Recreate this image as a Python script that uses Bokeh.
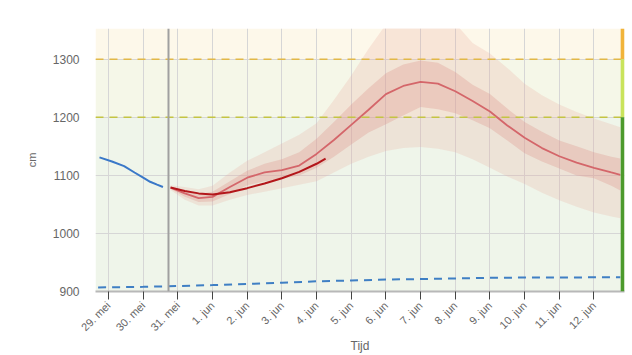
import math
from bokeh.plotting import figure
from bokeh.models import Range1d, FixedTicker, BoxAnnotation, Span
from bokeh.embed import file_html
from bokeh.resources import INLINE

# ---- data (x in days, 0 = 29 mei 00:00) ----
tick_days = list(range(15))
tick_labels = ["29. mei", "30. mei", "31. mei", "1. jun", "2. jun", "3. jun", "4. jun",
               "5. jun", "6. jun", "7. jun", "8. jun", "9. jun", "10. jun", "11. jun", "12. jun"]
y_ticks = [900, 1000, 1100, 1200, 1300]

now_day = 1.73
threshold_high = 1300
threshold_mid = 1200

obs_day = [-0.26, 0.1, 0.45, 0.75, 1.0, 1.2, 1.4, 1.57]
obs_val = [1131, 1124, 1116, 1105, 1096, 1089, 1084, 1080]

base_day = [-0.3, 1, 2, 3, 4, 5, 6, 7, 8, 9, 10, 11, 12, 13, 14, 14.76]
base_val = [907, 908, 909.5, 911, 913, 915, 917.5, 919, 920.5, 921.5, 922.5, 923.5, 924, 924, 924.5, 924.5]

det_day = [1.79, 2.2, 2.6, 3.0, 3.5, 4.0, 4.5, 5.0, 5.5, 6.0, 6.26]
det_val = [1079, 1073, 1069, 1067, 1071, 1078, 1086, 1095, 1106, 1120, 1129]

fc_day = [1.79, 2.2, 2.6, 3.0, 3.5, 4.0, 4.5, 5.0, 5.5, 6.0, 6.5, 7.0, 7.5, 8.0, 8.5, 9.0,
          9.5, 10.0, 10.5, 11.0, 11.5, 12.0, 12.5, 13.0, 13.5, 14.0, 14.5, 14.76]
fc_median = [1079, 1069, 1061, 1063, 1080, 1096, 1105, 1109, 1117, 1137, 1161, 1187, 1213, 1240,
             1254, 1261, 1258, 1245, 1228, 1210, 1186, 1165, 1147, 1133, 1122, 1113, 1105, 1101]
fc_inner_hi = [1081, 1074, 1068, 1072, 1090, 1108, 1120, 1128, 1140, 1163, 1192, 1222, 1250, 1276,
               1291, 1298, 1294, 1278, 1256, 1240, 1215, 1192, 1175, 1160, 1150, 1140, 1132, 1129]
fc_inner_lo = [1077, 1063, 1054, 1055, 1068, 1083, 1090, 1094, 1100, 1113, 1132, 1153, 1174, 1188,
               1203, 1218, 1214, 1207, 1195, 1181, 1160, 1138, 1124, 1112, 1100, 1095, 1082, 1074]
fc_outer_hi = [1083, 1080, 1076, 1082, 1105, 1125, 1140, 1155, 1170, 1190, 1230, 1272, 1318, 1360,
               1390, 1400, 1390, 1362, 1328, 1310, 1285, 1258, 1238, 1222, 1209, 1198, 1188, 1183]
fc_outer_lo = [1075, 1058, 1048, 1048, 1058, 1066, 1072, 1078, 1084, 1090, 1105, 1120, 1132, 1142,
               1147, 1149, 1146, 1140, 1128, 1113, 1098, 1085, 1070, 1057, 1046, 1036, 1029, 1026]

FONT = "Liberation Sans"

p = figure(frame_width=529, frame_height=263, output_backend="svg", toolbar_location=None,
           x_range=Range1d(-0.375, 14.88), y_range=Range1d(900, 1353),
           min_border_left=95, min_border_right=8, min_border_top=28, min_border_bottom=62,
           background_fill_color="white", border_fill_color="white")
p.outline_line_color = None

# background zones
p.add_layout(BoxAnnotation(bottom=threshold_high, fill_color="#fdf8ea", fill_alpha=1, line_color=None, level="image"))
p.add_layout(BoxAnnotation(bottom=threshold_mid, top=threshold_high, fill_color="#f5f7e8", fill_alpha=1, line_color=None, level="image"))
p.add_layout(BoxAnnotation(top=threshold_mid, fill_color="#eff5ea", fill_alpha=1, line_color=None, level="image"))

# grids
p.xgrid.ticker = FixedTicker(ticks=tick_days)
p.xgrid.grid_line_color = "#d6d6d6"
p.ygrid.ticker = FixedTicker(ticks=y_ticks)
p.ygrid.grid_line_color = "#d6d6d6"

# forecast bands
p.varea(x=fc_day, y1=fc_outer_lo, y2=fc_outer_hi, fill_color="#e6a497", fill_alpha=0.22)
p.varea(x=fc_day, y1=fc_inner_lo, y2=fc_inner_hi, fill_color="#dc968c", fill_alpha=0.32)

# thresholds
p.add_layout(Span(location=threshold_high, dimension="width", line_color="#e2b847", line_width=1.5, line_dash="8 6"))
p.add_layout(Span(location=threshold_mid, dimension="width", line_color="#c4c443", line_width=1.5, line_dash="8 6"))

# now line
p.add_layout(Span(location=now_day, dimension="height", line_color="#a0a0a0", line_width=2))

# lines
p.line(base_day, base_val, line_color="#3f7fc4", line_width=2, line_dash="8 6")
p.line(obs_day, obs_val, line_color="#3a78c8", line_width=2)
p.line(fc_day, fc_median, line_color="#d4666a", line_width=1.8)
p.line(det_day, det_val, line_color="#b3161a", line_width=2)

# right status bar
bar_left = 14.77
p.add_layout(BoxAnnotation(left=bar_left, bottom=threshold_high, fill_color="#f1b43a", fill_alpha=1, line_color=None))
p.add_layout(BoxAnnotation(left=bar_left, bottom=threshold_mid, top=threshold_high, fill_color="#c9e35c", fill_alpha=1, line_color=None))
p.add_layout(BoxAnnotation(left=bar_left, top=threshold_mid, fill_color="#4c9a2c", fill_alpha=1, line_color=None))

# x axis
xa = p.xaxis[0]
xa.ticker = FixedTicker(ticks=tick_days)
xa.major_label_overrides = {d: lab for d, lab in zip(tick_days, tick_labels)}
xa.major_label_orientation = math.pi / 4
xa.major_label_text_font = FONT
xa.major_label_text_font_size = "11px"
xa.major_label_text_color = "#666666"
xa.major_label_standoff = 4
xa.axis_line_color = "#b8b8b8"
xa.axis_line_width = 2
xa.major_tick_line_color = "#444444"
xa.major_tick_out = 8
xa.major_tick_in = 0
xa.minor_tick_line_color = None
xa.axis_label = "Tijd"
xa.axis_label_text_font = FONT
xa.axis_label_text_font_size = "12px"
xa.axis_label_text_font_style = "normal"
xa.axis_label_text_color = "#666666"
xa.axis_label_standoff = -1

# y axis
ya = p.yaxis[0]
ya.ticker = FixedTicker(ticks=y_ticks)
ya.axis_line_color = None
ya.major_tick_line_color = None
ya.minor_tick_line_color = None
ya.major_label_text_font = FONT
ya.major_label_text_font_size = "12px"
ya.major_label_text_color = "#666666"
ya.major_label_standoff = 10
ya.axis_label = "cm"
ya.axis_label_text_font = FONT
ya.axis_label_text_font_size = "11px"
ya.axis_label_text_font_style = "normal"
ya.axis_label_text_color = "#666666"
ya.axis_label_standoff = 12

open("out.html", "w").write(file_html(p, INLINE))
